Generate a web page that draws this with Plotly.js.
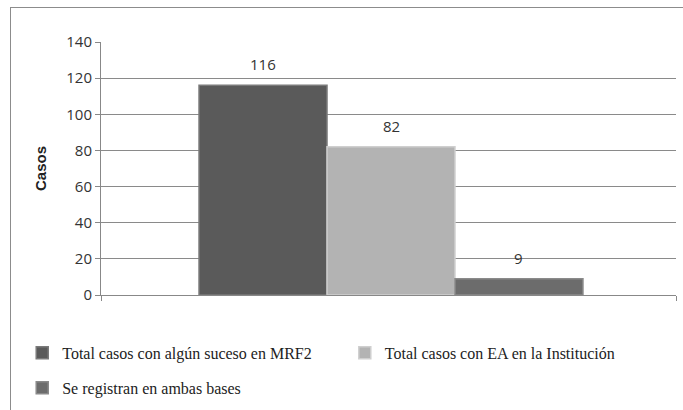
<!DOCTYPE html>
<html>
<head>
<meta charset="utf-8">
<script src="https://cdn.plot.ly/plotly-3.0.1.min.js"></script>
<style>
html,body{margin:0;padding:0;background:#fff;}
#wrap{position:relative;width:683px;height:410px;overflow:hidden;}
#chart{position:absolute;left:0;top:0;width:683px;height:410px;}
#frame{position:absolute;left:10px;top:7px;width:700px;height:420px;border-left:1px solid #8c8c8c;border-top:1px solid #8c8c8c;pointer-events:none;}
</style>
</head>
<body>
<div id="wrap"><div id="chart"></div><div id="frame"></div></div>
<script>
const seriesNames = ["Total casos con algún suceso en MRF2", "Total casos con EA en la Institución", "Se registran en ambas bases"];
const seriesValues = [116, 82, 9];
const seriesColors = ["#5a5a5a", "#b3b3b3", "#6c6c6c"];
const lineColors = ["#7a7a7a", "#cfcfcf", "#8a8a8a"];
const yTicks = [0, 20, 40, 60, 80, 100, 120, 140];
const yAxisTitle = "Casos";
const xRange = [-1.266, 3.227];

const legendNames = ["legend", "legend2", "legend3"];
const traces = seriesNames.map((n, i) => ({
  type: "bar",
  name: n,
  x: [i],
  y: [seriesValues[i]],
  width: [1],
  marker: {color: seriesColors[i], line: {color: lineColors[i], width: 1.5}},
  legend: legendNames[i],
  hoverinfo: "skip"
}));

const labelFont = {family: "Open Sans, Liberation Sans, sans-serif", size: 15, color: "#333"};
const annotations = seriesValues.map((v, i) => ({
  x: i, y: v, xref: "x", yref: "y", text: String(v),
  showarrow: false, yanchor: "bottom", yshift: 9,
  font: labelFont
}));

const legendFont = {family: "Liberation Serif, serif", size: 16, color: "#222"};
const legBase = {orientation: "h", xanchor: "left", yanchor: "top", font: legendFont, bgcolor: "rgba(0,0,0,0)"};

const layout = {
  width: 683, height: 410,
  margin: {l: 101, r: 7, t: 42, b: 114},
  paper_bgcolor: "#fff", plot_bgcolor: "#fff",
  barmode: "overlay",
  showlegend: true,
  xaxis: {
    range: xRange, tickvals: xRange, showticklabels: false, showgrid: false, zeroline: false,
    showline: true, linecolor: "#888", linewidth: 1, fixedrange: true,
    ticks: "outside", ticklen: 5, tickcolor: "#888"
  },
  yaxis: {
    range: [0, 140], tickvals: yTicks, ticktext: yTicks.map(String),
    showgrid: true, gridcolor: "#8a8a8a", gridwidth: 1, zeroline: false,
    showline: true, linecolor: "#888", linewidth: 1,
    ticks: "outside", ticklen: 5, tickcolor: "#888",
    tickfont: labelFont,
    title: {text: yAxisTitle, standoff: 16, font: {family: "Liberation Sans, Arial, sans-serif", size: 15, color: "#222", weight: "bold"}}
  },
  legend: Object.assign({x: -0.137, y: -0.157}, legBase),
  legend2: Object.assign({x: 0.424, y: -0.157}, legBase),
  legend3: Object.assign({x: -0.137, y: -0.295}, legBase),
  annotations: annotations
};

Plotly.newPlot("chart", traces, layout, {displayModeBar: false, staticPlot: true});
</script>
</body>
</html>
